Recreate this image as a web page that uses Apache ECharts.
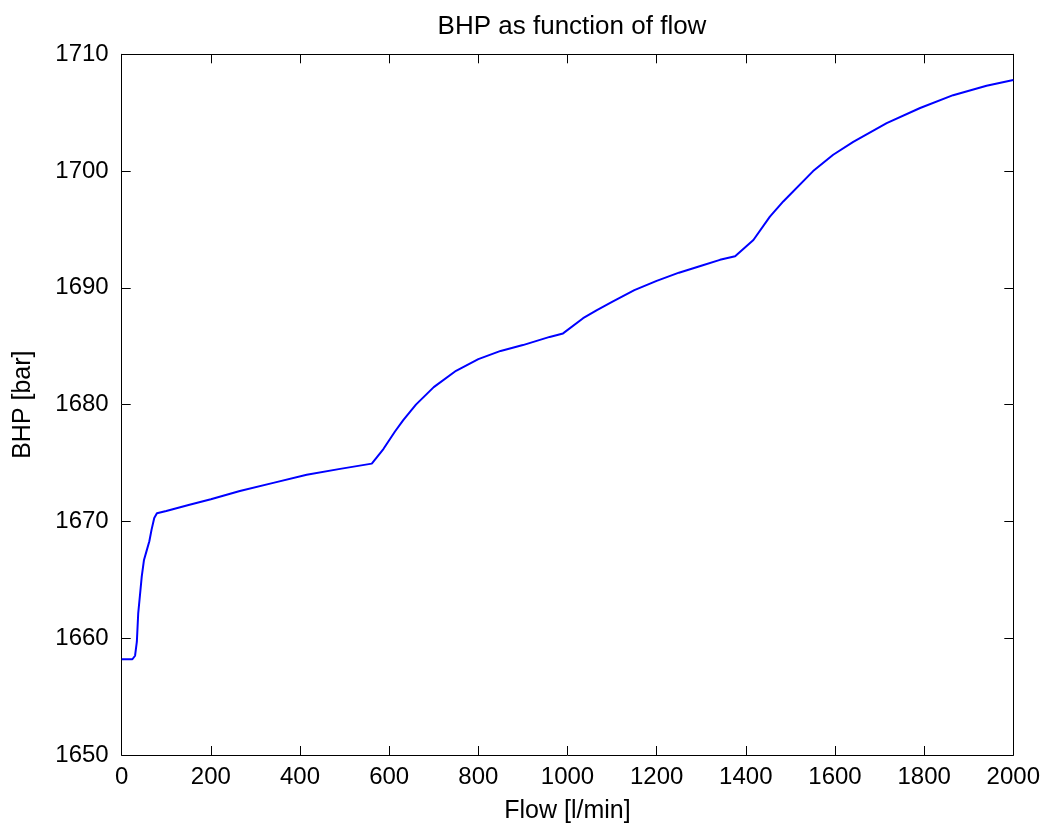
<!DOCTYPE html>
<html>
<head>
<meta charset="utf-8">
<script src="https://cdn.jsdelivr.net/npm/echarts@6/dist/echarts.min.js"></script>
<style>
  html, body { margin: 0; padding: 0; background: #fff; }
  #chart { width: 1045px; height: 829px; }
</style>
</head>
<body>
<div id="chart"></div>
<script>
// Flow rate [l/min] and the bottom-hole pressure [bar] reached at that flow
const flow = [0, 24, 30, 34, 37, 41, 45, 50, 56, 62, 67, 73, 79, 100, 150, 200, 265, 340, 415, 490,
  561, 587, 613, 632, 660, 700, 750, 800, 850, 900, 960, 990, 1035, 1066, 1100, 1150, 1200, 1250,
  1300, 1342, 1376, 1417, 1454, 1484, 1551, 1596, 1641, 1716, 1791, 1865, 1940, 2000];
const bhp = [1658.2, 1658.2, 1658.5, 1659.7, 1662.1, 1663.7, 1665.3, 1666.7, 1667.5, 1668.3, 1669.3,
  1670.3, 1670.7, 1670.9, 1671.4, 1671.9, 1672.6, 1673.3, 1674.0, 1674.5,
  1674.95, 1676.2, 1677.7, 1678.7, 1680.0, 1681.5, 1682.9, 1683.9, 1684.6, 1685.1, 1685.8, 1686.1,
  1687.4, 1688.1, 1688.8, 1689.8, 1690.6, 1691.3, 1691.9, 1692.4, 1692.7, 1694.1, 1696.1, 1697.4,
  1700.0, 1701.4, 1702.5, 1704.1, 1705.4, 1706.5, 1707.3, 1707.8];

const xTicks = { min: 0, max: 2000, step: 200 };
const yTicks = { min: 1650, max: 1710, step: 10 };

const font = 'Liberation Sans, Arial, Helvetica, sans-serif';
const plain = v => String(v);

const chart = echarts.init(document.getElementById('chart'), null, { renderer: 'canvas' });

const axisBase = {
  axisLine: { show: true, onZero: false, lineStyle: { color: '#000', width: 1 } },
  axisTick: { show: true, inside: true, length: 9, lineStyle: { color: '#000', width: 1 } },
  splitLine: { show: false }
};

chart.setOption({
  animation: false,
  backgroundColor: '#fff',
  title: {
    text: 'BHP as function of flow',
    left: 567, top: 9, textAlign: 'center',
    textStyle: { fontFamily: font, fontSize: 26, fontWeight: 'normal', color: '#000' }
  },
  grid: { left: 121.7, right: 31.7, top: 54.3, bottom: 72.7, containLabel: false },
  xAxis: [
    Object.assign({}, axisBase, {
      type: 'value', position: 'bottom',
      min: xTicks.min, max: xTicks.max, interval: xTicks.step,
      name: 'Flow [l/min]', nameLocation: 'middle', nameGap: 44,
      nameTextStyle: { fontFamily: font, fontSize: 25, color: '#000' },
      axisLabel: { fontFamily: font, fontSize: 24, color: '#000', margin: 10, formatter: plain }
    }),
    Object.assign({}, axisBase, {
      type: 'value', position: 'top',
      min: xTicks.min, max: xTicks.max, interval: xTicks.step,
      axisLabel: { show: false }
    })
  ],
  yAxis: [
    Object.assign({}, axisBase, {
      type: 'value', position: 'left',
      min: yTicks.min, max: yTicks.max, interval: yTicks.step,
      name: 'BHP [bar]', nameLocation: 'middle', nameGap: 86, nameRotate: 90,
      nameTextStyle: { fontFamily: font, fontSize: 25, color: '#000' },
      axisLabel: { fontFamily: font, fontSize: 24, color: '#000', margin: 13, formatter: plain }
    }),
    Object.assign({}, axisBase, {
      type: 'value', position: 'right',
      min: yTicks.min, max: yTicks.max, interval: yTicks.step,
      axisLabel: { show: false }
    })
  ],
  series: [{
    type: 'line',
    data: flow.map((f, i) => [f, bhp[i]]),
    showSymbol: false,
    smooth: false,
    lineStyle: { color: '#0000ff', width: 2 },
    xAxisIndex: 0, yAxisIndex: 0
  }]
});
</script>
</body>
</html>
